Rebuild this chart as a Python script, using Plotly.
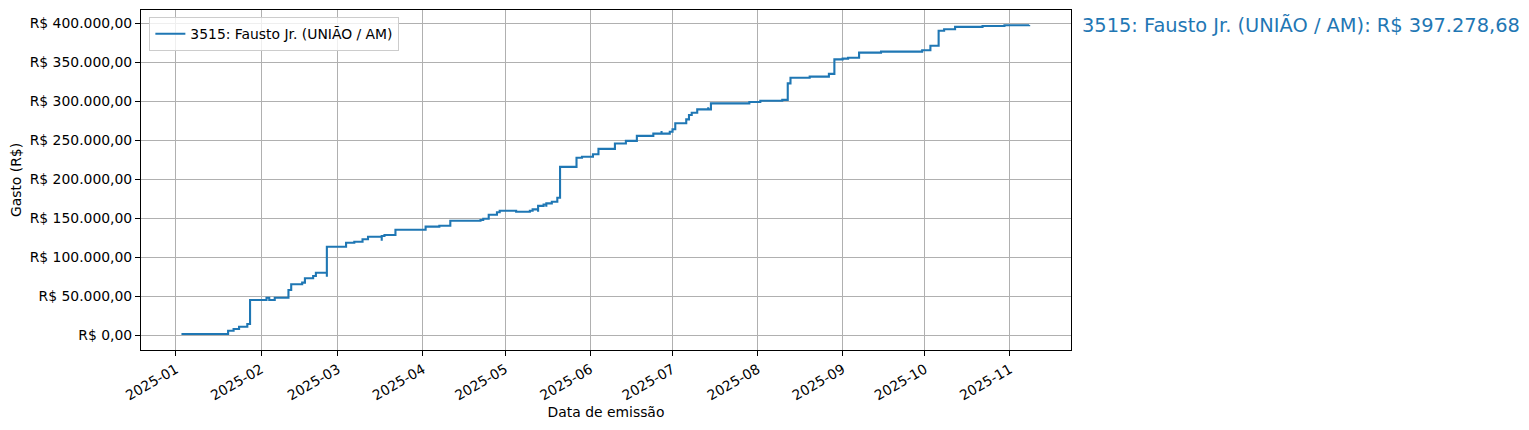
import plotly.graph_objects as go

# cumulative spend per emission date
datas = [
    "2025-01-03", "2025-01-20", "2025-01-22", "2025-01-24", "2025-01-27",
    "2025-01-28", "2025-02-03", "2025-02-04", "2025-02-06", "2025-02-11",
    "2025-02-12", "2025-02-16", "2025-02-17", "2025-02-20", "2025-02-21",
    "2025-02-25", "2025-02-25", "2025-03-04", "2025-03-07", "2025-03-10",
    "2025-03-12", "2025-03-17", "2025-03-17", "2025-03-18", "2025-03-22",
    "2025-04-02", "2025-04-07", "2025-04-11", "2025-04-22", "2025-04-23",
    "2025-04-25", "2025-04-28", "2025-04-29", "2025-05-05", "2025-05-10",
    "2025-05-11", "2025-05-13", "2025-05-13", "2025-05-15", "2025-05-16",
    "2025-05-16", "2025-05-18", "2025-05-20", "2025-05-21", "2025-05-27",
    "2025-05-29", "2025-06-02", "2025-06-04", "2025-06-10", "2025-06-14",
    "2025-06-18", "2025-06-24", "2025-06-27", "2025-06-27", "2025-06-30",
    "2025-07-01", "2025-07-02", "2025-07-06", "2025-07-07", "2025-07-08",
    "2025-07-10", "2025-07-14", "2025-07-14", "2025-07-15", "2025-07-29",
    "2025-08-02", "2025-08-10", "2025-08-12", "2025-08-13", "2025-08-20",
    "2025-08-27", "2025-08-29", "2025-09-01", "2025-09-03", "2025-09-07",
    "2025-09-15", "2025-09-30", "2025-10-03", "2025-10-06", "2025-10-08",
    "2025-10-12", "2025-10-22", "2025-10-30", "2025-11-08",
]
gasto = [
    1300, 5500, 7700, 10600, 14100,
    44900, 47800, 44900, 47800, 57700,
    65000, 67100, 72700, 75600, 79900,
    74800, 113200, 118300, 119600, 122700,
    126000, 120900, 126900, 128200, 135000,
    138900, 140100, 146500, 147400, 149100,
    154200, 157300, 159300, 158100, 159300,
    161100, 158100, 165600, 167300, 164500,
    168800, 170900, 176000, 215500, 227300,
    228600, 231700, 238600, 245500, 248900,
    255300, 258200, 261500, 258200, 260600,
    263700, 271400, 276500, 282000, 285000,
    289300, 292000, 289300, 297000, 298700,
    300400, 301500, 322600, 329900, 331200,
    334800, 353400, 354300, 355500, 362000,
    363300, 365000, 370900, 390100, 391900,
    395000, 396200, 397100, 397278.68,
]
y_ticks = [0, 50000, 100000, 150000, 200000, 250000, 300000, 350000, 400000]
nome = "3515: Fausto Jr. (UNIÃO / AM)"

FONT = "DejaVu Sans"
AZUL = "#1f77b4"


def brl(v):
    s = f"{v:,.2f}"
    return "R$ " + s.replace(",", "X").replace(".", ",").replace("X", ".")


fig = go.Figure()
fig.add_trace(
    go.Scatter(
        x=datas,
        y=gasto,
        mode="lines",
        line_shape="hv",
        line=dict(color=AZUL, width=2.1),
        name=nome,
    )
)

# total label to the right of the axes, at the last value
fig.add_annotation(
    x=1.01,
    xref="paper",
    y=gasto[-1],
    yref="y",
    text=f"{nome}: {brl(gasto[-1])}",
    showarrow=False,
    xanchor="left",
    yanchor="middle",
    font=dict(family=FONT, size=19.4, color=AZUL),
)

eixo = dict(
    showline=True,
    mirror=True,
    linecolor="black",
    linewidth=1.1,
    showgrid=True,
    gridcolor="#b0b0b0",
    gridwidth=1.1,
    zeroline=False,
    ticks="outside",
    ticklen=5,
    tickwidth=1.1,
    tickcolor="black",
    tickfont=dict(family=FONT, size=13.9, color="black"),
)

fig.update_xaxes(
    **eixo,
    range=["2024-12-19 06:00", "2025-11-23 06:00"],
    dtick="M1",
    tick0="2025-01-01",
    tickformat="%Y-%m",
    tickangle=-30,
    title=dict(text="Data de emissão", font=dict(family=FONT, size=13.9), standoff=4),
)
fig.update_yaxes(
    **eixo,
    range=[-19231, 416667],
    tickvals=y_ticks,
    ticktext=[brl(v) for v in y_ticks],
    title=dict(text="Gasto (R$)", font=dict(family=FONT, size=13.9), standoff=4),
)

# the page body adds an 8px offset, so the figure is 8px smaller
fig.update_layout(
    width=1521,
    height=422,
    margin=dict(l=133, r=458, t=2, b=80),
    paper_bgcolor="white",
    plot_bgcolor="white",
    font=dict(family=FONT, size=13.9, color="black"),
    showlegend=True,
    legend=dict(
        x=0.009,
        y=0.979,
        xanchor="left",
        yanchor="top",
        bgcolor="rgba(255,255,255,0.8)",
        bordercolor="#cccccc",
        borderwidth=1,
        font=dict(family=FONT, size=13.9),
    ),
)

fig.write_html("out.html")
